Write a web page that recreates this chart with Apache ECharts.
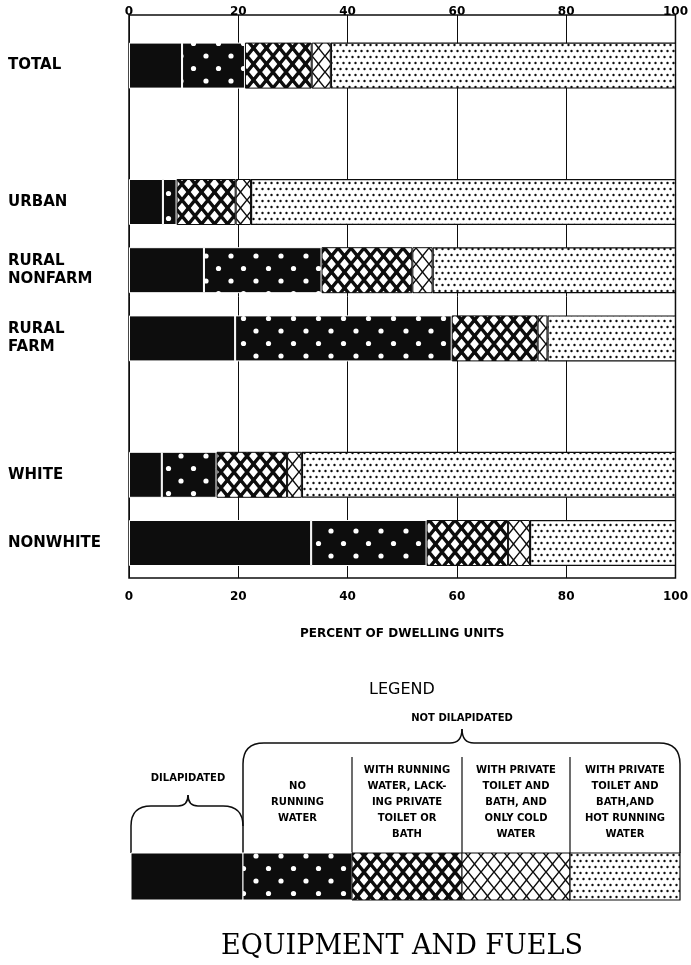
<!DOCTYPE html>
<html>
<head>
<meta charset="utf-8">
<script src="https://cdn.jsdelivr.net/npm/echarts@6/dist/echarts.min.js"></script>
<style>
  html, body { margin: 0; padding: 0; background: #fff; }
  #chart { width: 691px; height: 965px; }
</style>
</head>
<body>
<div id="chart"></div>
<script>
// values, percent of dwelling units
const categories = ['TOTAL', ' ', 'URBAN', 'RURAL\nNONFARM', 'RURAL\nFARM', '  ', 'WHITE', 'NONWHITE']
const dilapidated = [9.7, null, 6.2, 13.7, 19.4, null, 6.0, 33.3]
const noRunningWater = [11.5, null, 2.5, 21.5, 39.6, null, 10.0, 21.1]
const lackingToilet = [12.2, null, 10.8, 16.6, 15.7, null, 12.9, 14.9]
const coldWaterOnly = [3.5, null, 2.8, 3.7, 1.8, null, 2.7, 4.0]
const hotWater = [63.1, null, 77.7, 44.5, 23.5, null, 68.4, 26.7]
const seriesNames = [
  'DILAPIDATED',
  'NO\nRUNNING\nWATER',
  'WITH RUNNING\nWATER, LACK-\nING PRIVATE\nTOILET OR\nBATH',
  'WITH PRIVATE\nTOILET AND\nBATH, AND\nONLY COLD\nWATER',
  'WITH PRIVATE\nTOILET AND\nBATH,AND\nHOT RUNNING\nWATER'
]

const makeTile = (w, h, draw) => {
  const c = document.createElement('canvas')
  c.width = w
  c.height = h
  draw(c.getContext('2d'), w, h)
  return c
}

const ink = '#0d0d0d'

const solidTile = makeTile(4, 4, (ctx, w, h) => {
  ctx.fillStyle = ink
  ctx.fillRect(0, 0, w, h)
})

const bigDotTile = makeTile(25, 25, (ctx, w, h) => {
  ctx.fillStyle = ink
  ctx.fillRect(0, 0, w, h)
  ctx.fillStyle = '#fff'
  ;[[6, 6], [18.5, 18.5]].forEach(([x, y]) => {
    ctx.beginPath()
    ctx.arc(x, y, 2.6, 0, Math.PI * 2)
    ctx.fill()
  })
})

const latticeTile = (lw) => makeTile(13, 16, (ctx, w, h) => {
  ctx.fillStyle = '#fff'
  ctx.fillRect(0, 0, w, h)
  ctx.strokeStyle = ink
  ctx.lineWidth = lw
  for (let i = -1; i <= 1; i++) {
    for (let j = -1; j <= 1; j++) {
      const ox = i * w, oy = j * h
      ctx.beginPath()
      ctx.moveTo(ox, oy + h / 2)
      ctx.lineTo(ox + w / 2, oy)
      ctx.lineTo(ox + w, oy + h / 2)
      ctx.lineTo(ox + w / 2, oy + h)
      ctx.closePath()
      ctx.stroke()
    }
  }
})

const fineDotTile = makeTile(6, 12, (ctx, w, h) => {
  ctx.fillStyle = '#fff'
  ctx.fillRect(0, 0, w, h)
  ctx.fillStyle = ink
  ;[[1.5, 3], [4.5, 9]].forEach(([x, y]) => {
    ctx.beginPath()
    ctx.arc(x, y, 1.2, 0, Math.PI * 2)
    ctx.fill()
  })
})

const fills = [solidTile, bigDotTile, latticeTile(3.4), latticeTile(1.4), fineDotTile]
  .map(img => ({ image: img, repeat: 'repeat' }))
const borders = [
  { borderColor: '#fff', borderWidth: 1 },
  { borderColor: '#fff', borderWidth: 1 },
  { borderColor: ink, borderWidth: 1 },
  { borderColor: ink, borderWidth: 1 },
  { borderColor: ink, borderWidth: 1.2 }
]
const seriesData = [dilapidated, noRunningWater, lackingToilet, coldWaterOnly, hotWater]

const chartEl = document.getElementById('chart')
const chart = echarts.init(chartEl, null, { renderer: 'canvas' })

const tickFont = { color: '#000', fontFamily: 'DejaVu Sans', fontWeight: 'bold', fontSize: 12 }

// legend key below the chart
const keyEdges = [131, 243, 352, 462, 570, 680]
const keyTop = 853
const keyBottom = 900
const graphics = []

const strokeStyle = { fill: 'none', stroke: ink, lineWidth: 1.5 }
const seg = (x1, y1, x2, y2) => graphics.push({ type: 'line', shape: { x1, y1, x2, y2 }, style: strokeStyle })
const curve = (x1, y1, cpx1, cpy1, x2, y2) => graphics.push({
  type: 'bezierCurve', shape: { x1, y1, cpx1, cpy1, x2, y2 }, style: strokeStyle
})

// brace over the four "not dilapidated" columns
seg(243, keyTop, 243, 764)
curve(243, 764, 243, 743, 264, 743)
seg(264, 743, 450, 743)
curve(450, 743, 462, 743, 462, 729)
curve(462, 729, 462, 743, 474, 743)
seg(474, 743, 659, 743)
curve(659, 743, 680, 743, 680, 764)
seg(680, 764, 680, keyTop)
// small brace over dilapidated
seg(131, keyTop, 131, 826)
curve(131, 826, 131, 806, 151, 806)
seg(151, 806, 178, 806)
curve(178, 806, 188, 806, 188, 795)
curve(188, 795, 188, 806, 198, 806)
seg(198, 806, 223, 806)
curve(223, 806, 243, 806, 243, 826)

for (let i = 2; i <= 4; i++) {
  graphics.push({
    type: 'line',
    shape: { x1: keyEdges[i], y1: 757, x2: keyEdges[i], y2: keyTop },
    style: { stroke: ink, lineWidth: 1.2 }
  })
}

graphics.push({
  type: 'text',
  style: { text: 'LEGEND', x: 402, y: 690, textAlign: 'center', textVerticalAlign: 'middle',
    font: '16px "DejaVu Sans"', fill: '#000' }
})
graphics.push({
  type: 'text',
  style: { text: 'NOT DILAPIDATED', x: 462, y: 718, textAlign: 'center', textVerticalAlign: 'middle',
    font: 'bold 10px "DejaVu Sans"', fill: '#000' }
})
graphics.push({
  type: 'text',
  style: { text: seriesNames[0], x: 188, y: 778, textAlign: 'center', textVerticalAlign: 'middle',
    font: 'bold 10px "DejaVu Sans"', fill: '#000' }
})
for (let i = 1; i <= 4; i++) {
  const lines = seriesNames[i].split('\n').length
  graphics.push({
    type: 'text',
    style: {
      text: seriesNames[i],
      x: (keyEdges[i] + keyEdges[i + 1]) / 2,
      y: lines === 5 ? 762 : 778,
      textAlign: 'center',
      textVerticalAlign: 'top',
      lineHeight: 16,
      font: 'bold 10px "DejaVu Sans"',
      fill: '#000'
    }
  })
}
for (let i = 0; i < 5; i++) {
  graphics.push({
    type: 'rect',
    shape: { x: keyEdges[i], y: keyTop, width: keyEdges[i + 1] - keyEdges[i], height: keyBottom - keyTop },
    style: { fill: fills[i], lineWidth: borders[i].borderWidth, stroke: borders[i].borderColor }
  })
}
graphics.push({
  type: 'text',
  style: { text: 'EQUIPMENT AND FUELS', x: 402, y: 947, textAlign: 'center', textVerticalAlign: 'middle',
    font: '27px "DejaVu Serif"', fill: '#000' }
})

const option = {
  animation: false,
  backgroundColor: '#fff',
  grid: [
    { left: 129, right: 15, top: 31.5, height: 545.6 },
    { left: 129, right: 15, top: 15, height: 563, show: true, borderColor: ink, borderWidth: 1.5, backgroundColor: 'transparent' }
  ],
  xAxis: [
    { gridIndex: 0, type: 'value', min: 0, max: 100, show: false },
    {
      gridIndex: 1, type: 'value', min: 0, max: 100, interval: 20, position: 'top',
      axisLine: { show: false }, axisTick: { show: false },
      splitLine: { show: true, lineStyle: { color: ink, width: 1 } },
      axisLabel: Object.assign({ margin: -3 }, tickFont)
    },
    {
      gridIndex: 1, type: 'value', min: 0, max: 100, interval: 20, position: 'bottom',
      axisLine: { show: false }, axisTick: { show: false }, splitLine: { show: false },
      axisLabel: Object.assign({ margin: 13 }, tickFont),
      name: 'PERCENT OF DWELLING UNITS', nameLocation: 'middle', nameGap: 50,
      nameTextStyle: { color: '#000', fontFamily: 'DejaVu Sans', fontWeight: 'bold', fontSize: 12 }
    }
  ],
  yAxis: [
    {
      gridIndex: 0, type: 'category', data: categories, inverse: true,
      axisLine: { show: false }, axisTick: { show: false }, splitLine: { show: false },
      axisLabel: { align: 'left', margin: 121, color: '#000', fontFamily: 'DejaVu Sans',
        fontWeight: 'bold', fontSize: 15, lineHeight: 18 }
    },
    { gridIndex: 1, type: 'value', min: 0, max: 1, show: false }
  ],
  series: seriesData.map((data, i) => ({
    name: seriesNames[i],
    type: 'bar',
    stack: 'units',
    xAxisIndex: 0,
    yAxisIndex: 0,
    barWidth: 46,
    data: data,
    itemStyle: Object.assign({ color: fills[i] }, borders[i])
  })),
  graphic: graphics
}

chart.setOption(option)

window.addEventListener('resize', () => chart.resize())
</script>
</body>
</html>
